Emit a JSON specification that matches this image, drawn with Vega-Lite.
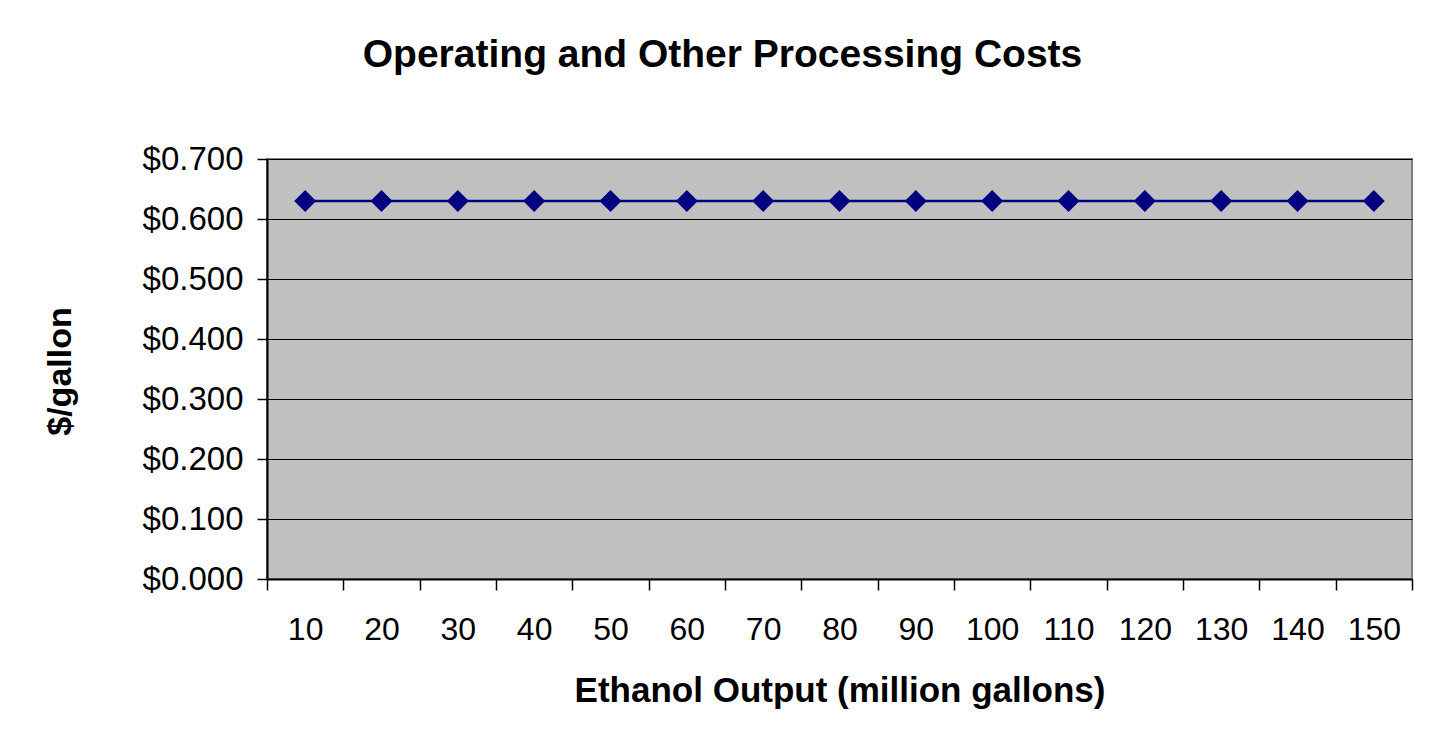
{
  "$schema": "https://vega.github.io/schema/vega-lite/v6.json",
  "width": 1145,
  "height": 420,
  "autosize": {"type": "none"},
  "padding": {"left": 267, "top": 159, "right": 25, "bottom": 174},
  "background": "white",
  "title": {
    "text": "Operating and Other Processing Costs",
    "font": "Liberation Sans",
    "fontSize": 39,
    "fontWeight": "bold",
    "color": "black",
    "anchor": "middle",
    "frame": "group",
    "dx": -117,
    "offset": 68
  },
  "config": {
    "view": {"fill": "#C0C0C0", "stroke": "#808080", "strokeWidth": 2},
    "font": "Liberation Sans"
  },
  "data": {
    "values": [
      {"output": 10, "cost": 0.63},
      {"output": 20, "cost": 0.63},
      {"output": 30, "cost": 0.63},
      {"output": 40, "cost": 0.63},
      {"output": 50, "cost": 0.63},
      {"output": 60, "cost": 0.63},
      {"output": 70, "cost": 0.63},
      {"output": 80, "cost": 0.63},
      {"output": 90, "cost": 0.63},
      {"output": 100, "cost": 0.63},
      {"output": 110, "cost": 0.63},
      {"output": 120, "cost": 0.63},
      {"output": 130, "cost": 0.63},
      {"output": 140, "cost": 0.63},
      {"output": 150, "cost": 0.63}
    ]
  },
  "encoding": {
    "x": {
      "field": "output",
      "type": "ordinal",
      "sort": null,
      "scale": {"type": "band", "paddingInner": 0, "paddingOuter": 0},
      "axis": {
        "title": "Ethanol Output (million gallons)",
        "titleFont": "Liberation Sans",
        "titleFontSize": 35,
        "titleFontWeight": "bold",
        "titleColor": "black",
        "titleBaseline": "middle",
        "titleY": 111,
        "labelAngle": 0,
        "labelFont": "Liberation Sans",
        "labelFontSize": 32,
        "labelColor": "black",
        "labelPadding": 24,
        "labelBaseline": "top",
        "tickBand": "extent",
        "tickSize": 11,
        "tickColor": "black",
        "tickWidth": 1.5,
        "domainColor": "black",
        "domainWidth": 2,
        "grid": false
      }
    },
    "y": {
      "field": "cost",
      "type": "quantitative",
      "scale": {"domain": [0, 0.7], "nice": false},
      "axis": {
        "values": [0, 0.1, 0.2, 0.3, 0.4, 0.5, 0.6, 0.7],
        "format": "$.3f",
        "title": "$/gallon",
        "titleFont": "Liberation Sans",
        "titleFontSize": 34,
        "titleFontWeight": "bold",
        "titleColor": "black",
        "titleAngle": -90,
        "titleAlign": "center",
        "titleBaseline": "middle",
        "titleX": -207,
        "titleY": 212,
        "labelFont": "Liberation Sans",
        "labelFontSize": 33,
        "labelColor": "black",
        "labelPadding": 14,
        "tickSize": 10,
        "tickColor": "black",
        "tickWidth": 1.5,
        "domainColor": "black",
        "domainWidth": 2,
        "grid": true,
        "gridColor": "black",
        "gridWidth": 1.2,
        "gridOpacity": 1
      }
    }
  },
  "layer": [
    {"mark": {"type": "line", "color": "#000080", "strokeWidth": 2.5}},
    {"mark": {"type": "point", "shape": "diamond", "filled": true, "color": "#000080", "size": 480, "opacity": 1}}
  ]
}
